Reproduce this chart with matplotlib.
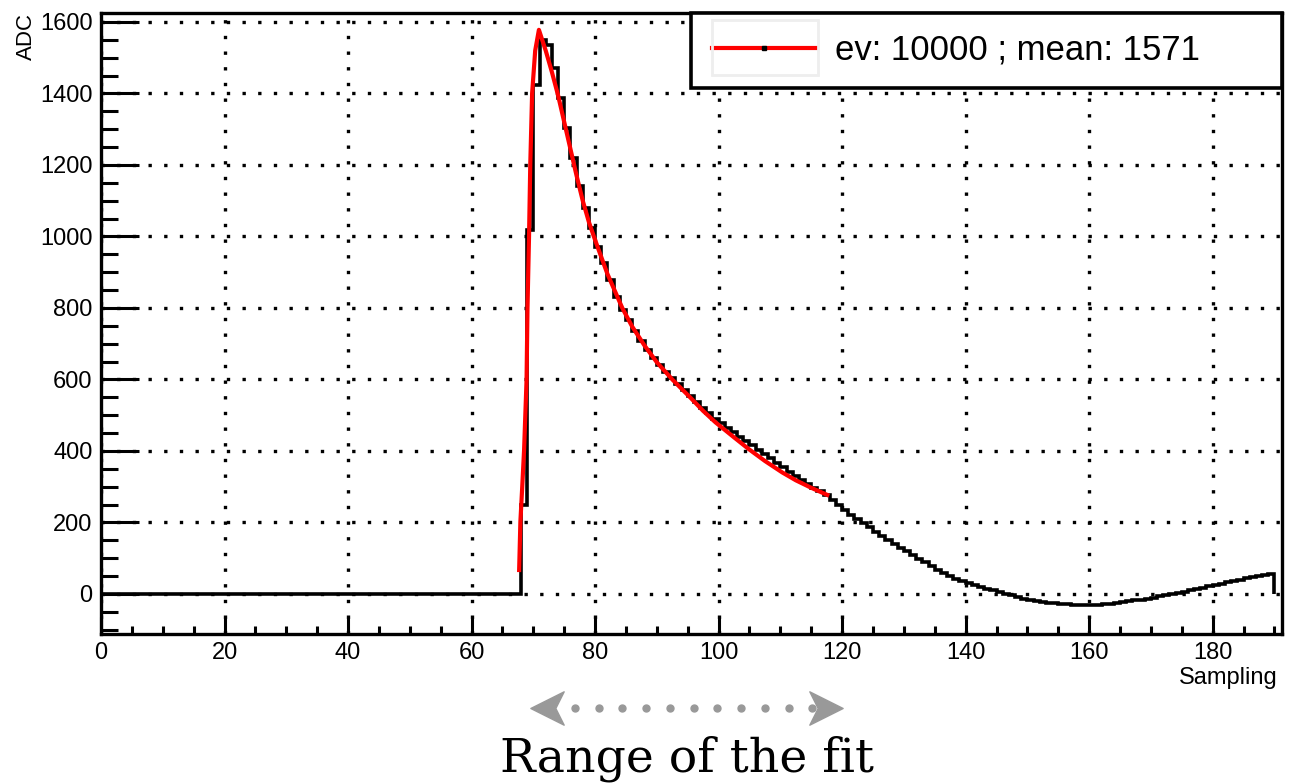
import numpy as np
import matplotlib
matplotlib.use("Agg")
import matplotlib.pyplot as plt
from matplotlib.lines import Line2D
from matplotlib.patches import Rectangle
from matplotlib.path import Path
from matplotlib.ticker import MultipleLocator
from matplotlib.transforms import blended_transform_factory

plt.rcParams['font.family'] = ['Liberation Sans', 'DejaVu Sans']

# ADC counts per sampling bin (bin k covers [k, k+1])
pedestal = [0] * 68
pulse = [249, 1018, 1424, 1550, 1535, 1470, 1386, 1303, 1219, 1140,
         1079, 1023, 970, 925, 878, 830, 795, 765, 735, 708,
         683, 661, 640, 621, 603, 586, 570, 553, 537, 521,
         505, 490, 477, 465, 452, 440, 428, 416, 404, 392,
         380, 367, 354, 342, 330, 319, 308, 297, 289, 277,
         263, 249, 235, 222, 210, 198, 186, 174, 163, 152,
         141, 130, 119, 109, 99, 89, 78, 68, 59, 51,
         43, 36, 30, 25, 20, 15, 10, 6, 1, -4,
         -9, -13, -17, -20, -22, -24, -26, -28, -29, -30,
         -31, -31, -31, -30, -29, -27, -25, -23, -21, -18,
         -16, -13, -11, -7, -3, 0, 3, 6, 10, 14,
         18, 22, 25, 29, 33, 36, 40, 44, 47, 50,
         53, 55]
adc = pedestal + pulse

# fitted pulse shape (red curve)
fit_x = [67.7, 67.9, 68.2, 68.5, 68.9, 69.05, 69.3, 69.5, 69.8, 70.3, 70.9,
         72.0, 73.0, 74.0, 75.0, 76.0, 77.0, 78.0, 79.0, 80.0, 82.0, 84.4,
         86.0, 88.0, 90.0, 92.5, 95.5, 97.5, 99.5, 102.5, 104.9, 107.5,
         110.3, 112.5, 115.0, 117.6]
fit_y = [67, 202, 300, 403, 599, 800, 1000, 1200, 1400, 1520, 1578,
         1520, 1460, 1395, 1320, 1245, 1170, 1100, 1040, 990, 895, 800,
         748, 695, 648, 600, 548, 512, 480, 438, 405, 372,
         340, 318, 297, 277]

n_events = 10000
mean_peak = 1571
fit_range = (69.5, 120.1)

fig = plt.figure(figsize=(13.04, 7.84), dpi=100)
ax = fig.add_axes([0.0775, 0.1913, 0.9055, 0.7921])

edges = np.arange(len(adc) + 1)
ax.stairs(adc, edges, baseline=0, fill=False, color='black', lw=2.6, zorder=3)
ax.plot(fit_x, fit_y, color='red', lw=3.0, zorder=4)

ax.set_xlim(0, 191.2)
ax.set_ylim(-112, 1625)
ax.xaxis.set_major_locator(MultipleLocator(20))
ax.xaxis.set_minor_locator(MultipleLocator(5))
ax.yaxis.set_major_locator(MultipleLocator(200))
ax.yaxis.set_minor_locator(MultipleLocator(50))
ax.grid(True, which='major', color='black', lw=2.4, linestyle=(0, (1, 3.7)))
ax.set_axisbelow(True)
for s in ax.spines.values():
    s.set_linewidth(2.4)
ax.tick_params(axis='both', which='both', direction='in', width=2.2,
               labelsize=17, pad=6)
ax.tick_params(axis='x', which='major', length=12)
ax.tick_params(axis='x', which='minor', length=6)
ax.tick_params(axis='y', which='major', length=27)
ax.tick_params(axis='y', which='minor', length=12)

ax.text(-0.063, 1.0, 'ADC', transform=ax.transAxes, rotation=90,
        ha='center', va='top', fontsize=16)
ax.text(0.9966, -0.071, 'Sampling', transform=ax.transAxes,
        ha='right', va='center', fontsize=17)

handle = Line2D([], [], color='red', lw=3.0, marker='s', ms=2.5,
                mfc='black', mec='black')
leg = ax.legend([handle], [f'ev: {n_events} ; mean: {mean_peak}'],
                loc='upper left', bbox_to_anchor=(0.4996, 1.0, 0.5004, 0),
                mode='expand', borderaxespad=0, fontsize=25, frameon=True,
                fancybox=False, edgecolor='black', framealpha=1,
                handlelength=3.0, handletextpad=0.55, borderpad=0.6,
                numpoints=1)
leg.get_frame().set_linewidth(2.6)
leg.set_zorder(10)
ax.add_patch(Rectangle((0.5174, 0.9), 0.0898, 0.088, transform=ax.transAxes,
                       fill=False, edgecolor='#eeeeee', lw=2, zorder=11))

# range-of-the-fit arrow under the axes
gray = '#999999'
tr = blended_transform_factory(ax.transData, fig.transFigure)
head = Path([(1, 0), (-1, 1), (-0.5, 0), (-1, -1), (1, 0)],
            [Path.MOVETO, Path.LINETO, Path.LINETO, Path.LINETO, Path.CLOSEPOLY])
head_l = Path([(-1, 0), (1, 1), (0.5, 0), (1, -1), (-1, 0)],
              [Path.MOVETO, Path.LINETO, Path.LINETO, Path.LINETO, Path.CLOSEPOLY])
y_arrow = 1 - 708 / 784
span = fit_range[1] - fit_range[0]
hw = span * 0.053
ax.plot([fit_range[0] + hw], [y_arrow], marker=head_l, ms=24, color=gray,
        mec=gray, transform=tr, clip_on=False)
ax.plot([fit_range[1] - hw], [y_arrow], marker=head, ms=24, color=gray,
        mec=gray, transform=tr, clip_on=False)
dots = np.linspace(fit_range[0] + 0.143 * span, fit_range[1] - 0.097 * span, 11)
ax.plot(dots, [y_arrow] * len(dots), 'o', ms=5, color=gray, mec=gray,
        transform=tr, clip_on=False)
fig.text(0.527, 1 - 771 / 784, 'Range of the fit', ha='center', va='baseline',
         fontsize=34, family='DejaVu Serif')

fig.savefig('out.png', dpi=100)
